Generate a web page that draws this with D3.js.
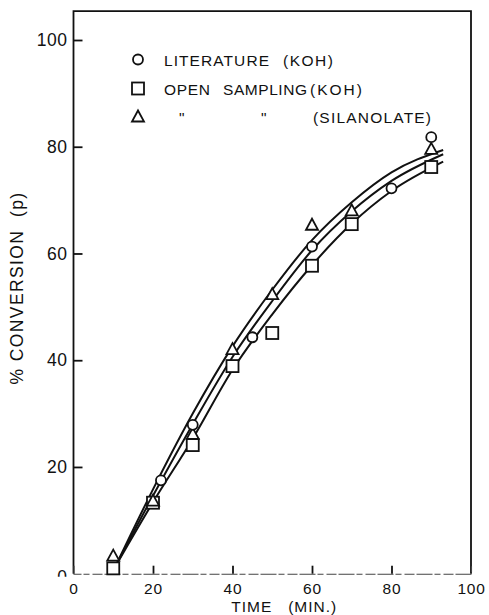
<!DOCTYPE html>
<html>
<head>
<meta charset="utf-8">
<script src="https://cdn.jsdelivr.net/npm/d3@7"></script>
<style>
  html, body { margin: 0; padding: 0; background: #fff; }
  svg { display: block; }
  text { font-family: "Liberation Sans", "DejaVu Sans", sans-serif; fill: #111; }
</style>
</head>
<body>
<svg id="chart" width="489" height="615"></svg>
<script>
// ---- data ----
const xTicks = [0, 20, 40, 60, 80, 100];
const yTicks = [0, 20, 40, 60, 80, 100];

// literature (KOH) – circles
const litTime = [22, 30, 45, 60, 80, 90];
const litConv = [17.5, 27.9, 44.3, 61.3, 72.2, 81.8];

// open sampling (KOH) – squares
const openTime = [10, 20, 30, 40, 50, 60, 70, 90];
const openConv = [1.0, 13.3, 24.1, 38.9, 45.1, 57.7, 65.5, 76.2];

// open sampling (silanolate) – triangles
const silTime = [10, 20, 30, 40, 50, 60, 70, 90];
const silConv = [3.2, 13.5, 26.0, 41.9, 52.2, 65.2, 67.9, 79.4];

// smooth fitted curves
const fitTime   = [10.5, 20, 30, 40, 50, 60, 70, 80, 93];
const fitUpper  = [1.3, 15.8, 30.0, 42.6, 53.2, 62.5, 69.6, 75.2, 79.4];
const fitMiddle = [1.3, 14.6, 28.0, 40.6, 51.1, 60.6, 67.9, 73.6, 78.6];
const fitLower  = [1.3, 13.4, 25.3, 38.2, 48.6, 57.8, 65.6, 71.7, 77.2];

// ---- layout ----
const svg = d3.select("#chart");
const x = d3.scaleLinear().domain([0, 100]).range([73.5, 471]);
const y = d3.scaleLinear().domain([0, 100]).range([573.7, 40]);
const yFrameTop = 105.4;

const zip = (a, b) => a.map((v, i) => [v, b[i]]);

// frame: left, top, right
svg.append("path")
  .attr("d", `M${x(0)},${y(0)}V${y(yFrameTop)}H${x(100)}V${y(0)}`)
  .attr("fill", "none").attr("stroke", "#111").attr("stroke-width", 1.8);

// y axis, ticks pointing into the plot
const yAxis = svg.append("g")
  .attr("transform", `translate(${x(0)},0)`)
  .call(d3.axisLeft(y).tickValues(yTicks).tickSize(-9).tickPadding(6).tickFormat(d3.format("d")));
yAxis.select(".domain").remove();
yAxis.selectAll(".tick line").attr("stroke", "#111").attr("stroke-width", 1.8);
yAxis.selectAll(".tick text")
  .style("font-size", "17.5px").style("letter-spacing", "0.5px")
  .attr("fill", "#111");

// the zero label sits below the baseline and only its top shows
svg.append("clipPath").attr("id", "zeroClip")
  .append("rect").attr("x", -40).attr("y", -20).attr("width", 40).attr("height", 22.5);
yAxis.selectAll(".tick").filter(d => d === 0)
  .select("text")
  .attr("dy", "0.5em")
  .attr("clip-path", "url(#zeroClip)");
yAxis.selectAll(".tick").filter(d => d === 0).select("line").remove();

// x axis, ticks pointing up into the plot
const xAxis = svg.append("g")
  .attr("transform", `translate(0,${y(0)})`)
  .call(d3.axisBottom(x).tickValues(xTicks).tickSize(-8).tickPadding(9).tickFormat(d3.format("d")));
xAxis.select(".domain")
  .attr("stroke", "#444").attr("stroke-width", 1.1)
  .attr("stroke-dasharray", "16 2 6 3 10 2");
xAxis.selectAll(".tick line").attr("stroke", "#111").attr("stroke-width", 1.8)
  .filter(d => d === 0 || d === 100).remove();
xAxis.selectAll(".tick text")
  .style("font-size", "15.5px").style("letter-spacing", "0.8px")
  .attr("fill", "#222");

// axis titles
svg.append("text")
  .attr("x", (x(0) + x(100)) / 2 + 12).attr("y", 611.5)
  .attr("text-anchor", "middle")
  .style("font-size", "15.5px").style("letter-spacing", "1px")
  .text("TIME\u00a0\u00a0\u00a0(MIN.)");

svg.append("text")
  .attr("transform", "translate(23,288) rotate(-90)")
  .attr("text-anchor", "middle")
  .style("font-size", "17.5px").style("letter-spacing", "1.4px")
  .text("% CONVERSION\u00a0\u00a0(p)");

// fitted curves
const line = d3.line().x(d => x(d[0])).y(d => y(d[1])).curve(d3.curveMonotoneX);
[fitUpper, fitMiddle, fitLower].forEach(vals => {
  svg.append("path")
    .attr("d", line(zip(fitTime, vals)))
    .attr("fill", "none").attr("stroke", "#111").attr("stroke-width", 2);
});

// markers
const mk = { stroke: "#111", width: 1.8, fill: "#fff" };
function drawCircle(g, cx, cy) {
  g.append("circle").attr("cx", cx).attr("cy", cy).attr("r", 5)
    .attr("fill", mk.fill).attr("stroke", mk.stroke).attr("stroke-width", mk.width);
}
function drawSquare(g, cx, cy) {
  g.append("rect").attr("x", cx - 6).attr("y", cy - 6).attr("width", 12).attr("height", 12)
    .attr("fill", mk.fill).attr("stroke", mk.stroke).attr("stroke-width", mk.width);
}
function drawTriangle(g, cx, cy) {
  g.append("path").attr("d", `M${cx},${cy - 7}L${cx + 6},${cy + 4}L${cx - 6},${cy + 4}Z`)
    .attr("fill", mk.fill).attr("stroke", mk.stroke).attr("stroke-width", mk.width);
}

const pts = svg.append("g");
zip(openTime, openConv).forEach(d => drawSquare(pts, x(d[0]), y(d[1])));
zip(silTime, silConv).forEach(d => drawTriangle(pts, x(d[0]), y(d[1])));
zip(litTime, litConv).forEach(d => drawCircle(pts, x(d[0]), y(d[1])));

// legend
const leg = svg.append("g");
const legX = 138;
const rows = [59.5, 88.5, 116.5];
drawCircle(leg, legX, rows[0]);
drawSquare(leg, legX, rows[1]);
drawTriangle(leg, legX, rows[2] + 1);

const legendText = [
  { x: 164, w: 105, row: 0, t: "LITERATURE" },
  { x: 283, w: 50,  row: 0, t: "(KOH)" },
  { x: 164, w: 46,  row: 1, t: "OPEN" },
  { x: 223, w: 84,  row: 1, t: "SAMPLING" },
  { x: 310, w: 52,  row: 1, t: "(KOH)" },
  { x: 179, w: 0,   row: 2, t: "\"" },
  { x: 261, w: 0,   row: 2, t: "\"" },
  { x: 313, w: 118, row: 2, t: "(SILANOLATE)" }
];
legendText.forEach(d => {
  const t = leg.append("text")
    .attr("x", d.x).attr("y", rows[d.row] + 6)
    .style("font-size", "15.5px")
    .text(d.t);
  if (d.w) t.attr("textLength", d.w).attr("lengthAdjust", "spacing");
});
</script>
</body>
</html>
